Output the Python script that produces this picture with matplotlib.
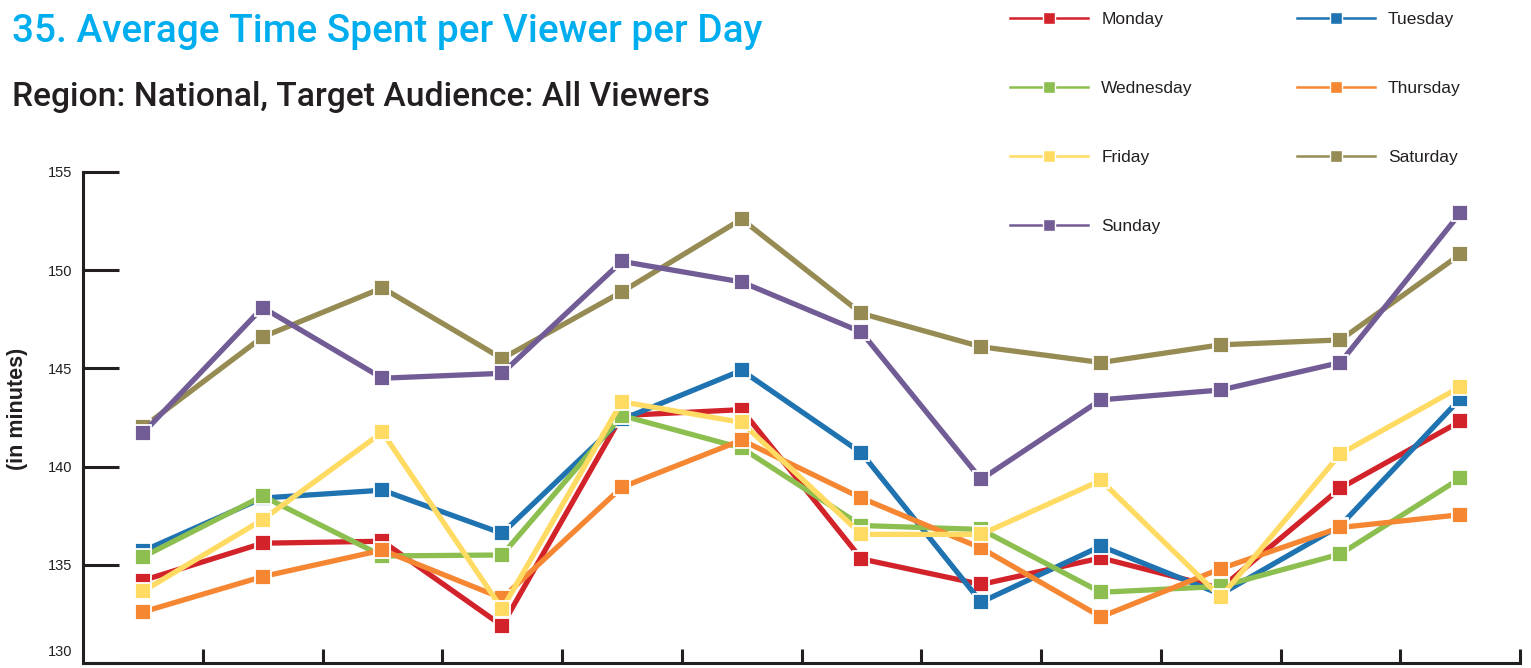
import matplotlib
matplotlib.use('Agg')
import matplotlib.pyplot as plt
import matplotlib.transforms as mtransforms
from matplotlib.lines import Line2D
import numpy as np

# Weekly average minutes per viewer, one value per period
periods = list(range(1, 13))
monday = [134.2, 136.1, 136.2, 131.9, 142.6, 142.9, 135.3, 134.0, 135.35, 133.8, 138.9, 142.3]
tuesday = [135.7, 138.4, 138.8, 136.6, 142.4, 144.9, 140.7, 133.1, 135.95, 133.5, 137.0, 143.45]
wednesday = [135.4, 138.5, 135.45, 135.5, 142.6, 140.95, 137.0, 136.8, 133.6, 133.9, 135.55, 139.4]
thursday = [132.6, 134.4, 135.75, 133.3, 138.95, 141.35, 138.4, 135.85, 132.35, 134.8, 136.9, 137.55]
friday = [133.65, 137.3, 141.75, 132.75, 143.3, 142.25, 136.55, 136.55, 139.3, 133.35, 140.65, 144.05]
saturday = [142.0, 146.6, 149.1, 145.5, 148.9, 152.6, 147.8, 146.1, 145.3, 146.2, 146.45, 150.8]
sunday = [141.7, 148.1, 144.5, 144.75, 150.45, 149.4, 146.85, 139.35, 143.4, 143.9, 145.3, 152.9]

days = ['Monday', 'Tuesday', 'Wednesday', 'Thursday', 'Friday', 'Saturday', 'Sunday']
series = [monday, tuesday, wednesday, thursday, friday, saturday, sunday]
colors = ['#d2232a', '#1f73b0', '#8cbf4f', '#f58632', '#ffdb63', '#958b53', '#725c96']
yticks = [130, 135, 140, 145, 150, 155]

dark = '#231f20'

fig = plt.figure(figsize=(15.31, 6.68), dpi=100)
ax = fig.add_axes([83 / 1531, 5 / 668, 1437 / 1531, 491 / 668])

x = np.arange(len(periods))
for vals, col, name in zip(series, colors, days):
    ax.plot(x, vals, color=col, lw=3.8, marker='s', ms=11.5,
            mfc=col, mec='white', mew=1.3, label=name, solid_joinstyle='miter')

ax.set_xlim(-0.5, len(periods) - 0.5)
ax.set_ylim(130, 155)
# ticks mark the boundaries between periods
ax.set_xticks(np.arange(len(periods)) + 0.5)
ax.set_xticklabels([])
ax.set_yticks(yticks)
ax.set_yticklabels([str(v) for v in yticks], family='Liberation Sans',
                   fontsize=10.5, color=dark)
ax.tick_params(axis='y', direction='in', length=26, width=2.2, color=dark, pad=8)
ax.tick_params(axis='x', direction='in', length=10, width=2.2, color=dark)
# lift the bottom label clear of the x axis
low = ax.get_yticklabels()[0]
low.set_transform(low.get_transform() +
                  mtransforms.ScaledTranslation(0, 9 / 72, fig.dpi_scale_trans))
for side in ['top', 'right']:
    ax.spines[side].set_visible(False)
for side in ['left', 'bottom']:
    ax.spines[side].set_linewidth(2.2)
    ax.spines[side].set_color(dark)
ax.set_ylabel('(in minutes)', family='Liberation Sans', fontsize=15.5,
              fontweight='bold', color=dark)
ax.yaxis.set_label_coords(-0.0383, 0.517)

# Titles
fig.text(12 / 1531, 1 - 42 / 668, '35. Average Time Spent per Viewer per Day',
         family='Roboto', fontweight='medium', fontsize=27.9,
         color='#00aeef', va='baseline')
fig.text(12 / 1531, 1 - 106 / 668, 'Region: National, Target Audience: All Viewers',
         family='Roboto', fontweight='medium', fontsize=24.2, color=dark,
         va='baseline')

# Legend with thin lines, laid out row by row
handles = [Line2D([], [], color=c, lw=1.8, marker='s', ms=9, mfc=c,
                  mec='white', mew=1.0) for c in colors]
order = [0, 2, 4, 6, 1, 3, 5]
fig.legend([handles[i] for i in order], [days[i] for i in order],
           loc='upper left', bbox_to_anchor=(1010 / 1531, 1 - 12 / 668),
           ncol=2, frameon=False, borderpad=0, borderaxespad=0,
           handlelength=4.5, handletextpad=0.75, columnspacing=6.0,
           labelspacing=3.1, prop={'family': 'Liberation Sans', 'size': 12.5},
           labelcolor=dark)

fig.savefig('out.png', dpi=100)
